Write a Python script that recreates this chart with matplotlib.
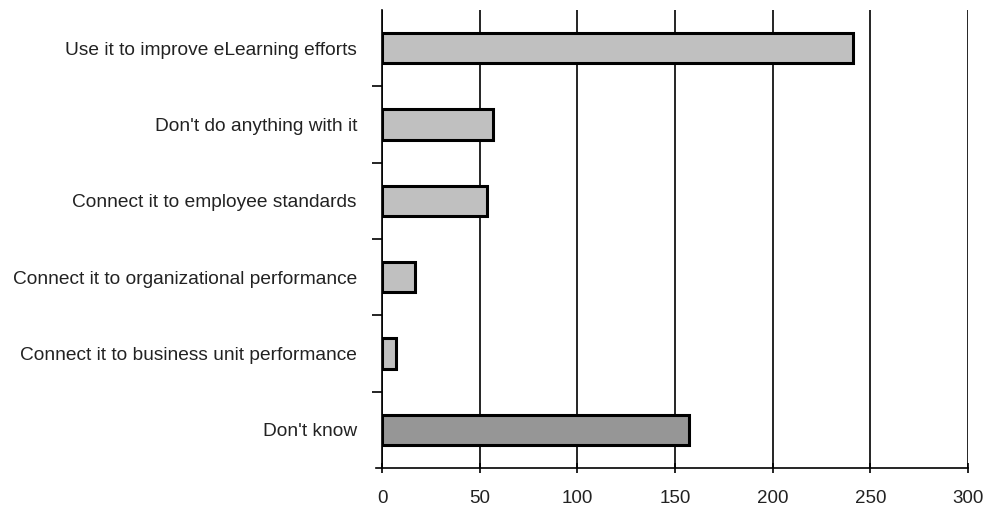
import matplotlib.pyplot as plt
import numpy as np

categories = ['Use it to improve eLearning efforts',
              "Don't do anything with it",
              'Connect it to employee standards',
              'Connect it to organizational performance',
              'Connect it to business unit performance',
              "Don't know"]
values = [241, 57, 54, 17, 7, 157]
colors = ['#c0c0c0', '#c0c0c0', '#c0c0c0', '#c0c0c0', '#c0c0c0', '#969696']
xticks = [0, 50, 100, 150, 200, 250, 300]

plt.rcParams['font.family'] = ['Liberation Sans', 'DejaVu Sans']

fig = plt.figure(figsize=(9.9, 5.15), dpi=100)
ax = fig.add_axes([382/990, 1 - 468/515, (968-382)/990, (468-10)/515])

y = np.arange(len(categories))
ax.barh(y, values, height=0.4, color=colors, edgecolor='black', linewidth=2.2, zorder=3)

ax.set_ylim(len(categories) - 0.5, -0.5)
ax.set_xlim(0, 300)
ax.set_xticks(xticks)
ax.set_xticklabels([str(t) for t in xticks])

ax.set_yticks(y)
ax.set_yticklabels(categories)
ax.set_yticks(np.arange(0.5, len(categories) - 0.5, 1), minor=True)
ax.tick_params(axis='y', which='major', length=0, pad=18, labelsize=13.8, labelcolor='#222222')
ax.tick_params(axis='y', which='minor', length=7, width=1.2, direction='out')
ax.tick_params(axis='x', length=7, width=1.2, direction='inout', pad=12, labelsize=13.5,
               labelcolor='#222222')

ax.grid(axis='x', color='black', linewidth=1.2, zorder=0)
for s in ['top', 'right']:
    ax.spines[s].set_visible(False)
ax.spines['left'].set_linewidth(1.2)
ax.spines['bottom'].set_linewidth(1.2)
ax.spines['bottom'].set_bounds(-3, 300)

fig.savefig('out.png', dpi=100)
